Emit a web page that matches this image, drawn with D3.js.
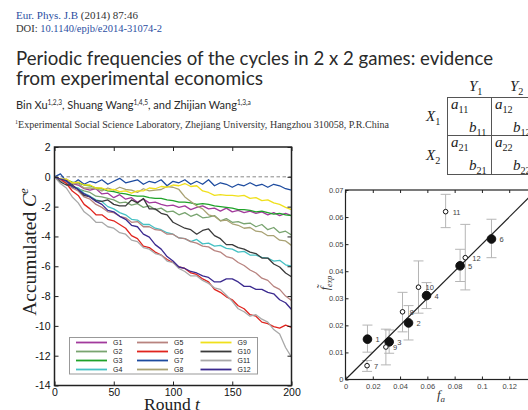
<!DOCTYPE html>
<html>
<head>
<meta charset="utf-8">
<script src="https://cdn.jsdelivr.net/npm/d3@7"></script>
<style>
html, body { margin: 0; padding: 0; background: #fff; }
svg { display: block; }
</style>
</head>
<body>
<svg id="fig" width="528" height="410"></svg>
<script>
// ---- data: accumulated C^e per game, sampled every 5 rounds ----
var rounds = [0, 5, 10, 15, 20, 25, 30, 35, 40, 45, 50, 55, 60, 65, 70, 75, 80, 85, 90, 95, 100,
  105, 110, 115, 120, 125, 130, 135, 140, 145, 150, 155, 160, 165, 170, 175, 180, 185, 190, 195, 200];
var games = ["G1", "G2", "G3", "G4", "G5", "G6", "G7", "G8", "G9", "G10", "G11", "G12"];
var gameColors = ["#a23a9c", "#79a470", "#1fa229", "#45c1c4", "#b8837f", "#e0241e",
  "#1d4b9f", "#a9a274", "#f0e01c", "#3a3a3a", "#a8a8a8", "#3b2a8f"];
var g1 = [0, -0.15, -0.3, -0.45, -0.55, -0.8, -0.9, -0.8, -1.15, -1.1, -1.4, -1.2, -1.5, -1.4, -1.7, -1.5, -1.75, -1.7, -1.85, -1.95, -1.9,
  -2.05, -1.95, -2.2, -2.05, -1.95, -2.15, -2.1, -2.3, -2.1, -2.35, -2.25, -2.4, -2.3, -2.45, -2.35, -2.55, -2.4, -2.6, -2.45, -2.6];
var g2 = [0, -0.3, -0.35, -0.65, -0.8, -0.95, -1.05, -1.3, -1.35, -1.45, -1.55, -1.75, -1.7, -1.9, -1.8, -2.05, -1.95, -2.2, -2.1, -2.35, -2.3,
  -2.55, -2.4, -2.65, -2.5, -2.75, -2.7, -2.6, -2.95, -2.8, -3.05, -3.0, -3.15, -3.1, -3.35, -3.2, -3.55, -3.4, -3.75, -3.65, -3.9];
var g3 = [0, -0.15, -0.2, -0.35, -0.4, -0.55, -0.6, -0.75, -0.8, -0.95, -1.0, -1.1, -1.15, -1.25, -1.3, -1.3, -1.4, -1.45, -1.45, -1.55, -1.6,
  -1.7, -1.7, -1.75, -1.85, -1.8, -1.85, -1.95, -2.0, -2.05, -2.1, -2.2, -2.2, -2.25, -2.35, -2.3, -2.4, -2.5, -2.45, -2.55, -2.6];
var g4 = [0, -0.3, -0.35, -0.7, -0.75, -1.1, -1.3, -1.55, -1.65, -2.0, -2.15, -2.4, -2.55, -2.85, -2.9, -3.2, -3.2, -3.45, -3.55, -3.75, -3.85,
  -4.1, -4.15, -4.35, -4.2, -4.5, -4.45, -4.65, -4.6, -4.8, -4.85, -5.05, -5.0, -5.25, -5.25, -5.4, -5.45, -5.65, -5.6, -5.9, -6.0];
var g5 = [0, -0.25, -0.4, -0.75, -0.95, -1.35, -1.5, -1.85, -2.05, -2.35, -2.4, -2.65, -2.75, -3.05, -3.0, -3.35, -3.35, -3.55, -3.6, -3.85, -3.85,
  -4.1, -4.15, -4.35, -4.45, -4.65, -4.7, -4.95, -5.05, -5.35, -5.45, -5.75, -5.95, -6.25, -6.45, -6.8, -6.95, -7.35, -7.55, -8.0, -8.3];
var g6 = [0, -0.15, -0.45, -0.95, -1.25, -1.85, -2.15, -2.55, -2.55, -2.85, -2.95, -3.2, -3.45, -3.95, -4.15, -4.65, -4.75, -5.05, -5.25, -5.55, -5.75,
  -6.05, -6.15, -6.45, -6.55, -6.85, -7.05, -7.55, -7.75, -8.05, -8.25, -8.65, -8.85, -9.25, -9.35, -9.75, -9.85, -10.05, -10.15, -9.95, -10.1];
var g7 = [0, 0.2, -0.3, -0.5, -0.2, -0.5, -0.3, -0.4, -0.2, -0.5, -0.3, -0.1, -0.4, -0.3, -0.2, -0.5, -0.3, -0.4, -0.2, -0.6, -0.3,
  -0.4, -0.2, -0.5, -0.3, -0.5, -0.2, -0.6, -0.4, -0.5, -0.7, -0.5, -0.6, -0.4, -0.6, -0.5, -0.7, -0.5, -0.6, -0.8, -0.9];
var g8 = [0, -0.15, -0.15, -0.45, -0.45, -0.75, -0.75, -0.8, -0.95, -0.75, -0.9, -0.7, -0.85, -0.9, -1.05, -0.8, -0.95, -0.9, -0.85, -0.65, -0.7,
  -0.85, -1.35, -1.65, -1.95, -2.15, -2.55, -2.65, -2.95, -2.9, -3.15, -3.25, -3.45, -3.4, -3.65, -3.7, -3.95, -3.95, -4.25, -4.3, -4.6];
var g9 = [0, -0.15, -0.15, -0.4, -0.35, -0.55, -0.55, -0.75, -0.75, -0.9, -0.85, -1.0, -0.95, -1.1, -0.95, -0.95, -0.75, -0.8, -0.65, -0.7, -0.55,
  -0.6, -0.45, -0.65, -0.6, -0.95, -1.05, -1.25, -1.2, -1.25, -1.25, -1.3, -1.25, -1.45, -1.4, -1.6, -1.55, -1.75, -1.85, -2.05, -2.2];
var g10 = [0, -0.35, -0.55, -0.55, -0.85, -1.25, -1.35, -1.6, -1.65, -1.55, -1.85, -1.95, -1.95, -1.55, -1.75, -1.45, -2.15, -2.15, -2.45, -2.55, -3.05,
  -3.25, -3.45, -3.55, -3.85, -3.6, -3.5, -3.95, -4.15, -4.55, -4.55, -4.75, -4.85, -5.05, -5.15, -5.45, -5.45, -5.85, -6.05, -6.45, -6.7];
var g11 = [0, -0.45, -0.75, -1.35, -1.75, -2.35, -2.65, -3.05, -3.05, -3.35, -3.45, -3.75, -3.85, -4.25, -4.35, -4.75, -4.85, -5.15, -5.25, -5.65, -5.75,
  -6.15, -6.35, -6.65, -6.65, -6.95, -7.15, -7.45, -7.55, -7.95, -8.35, -8.85, -9.05, -9.35, -9.25, -9.55, -9.75, -10.25, -10.55, -11.45, -12.1];
var g12 = [0, -0.15, -0.25, -0.65, -0.85, -1.15, -1.35, -1.65, -1.85, -2.25, -2.35, -2.65, -2.85, -3.25, -3.35, -3.85, -4.05, -4.55, -4.85, -5.35, -5.65,
  -6.05, -6.15, -6.35, -6.45, -6.65, -6.75, -7.05, -7.05, -6.85, -6.85, -7.05, -7.35, -7.35, -7.55, -7.55, -7.75, -7.85, -8.25, -8.45, -8.9];
var series = [g1, g2, g3, g4, g5, g6, g7, g8, g9, g10, g11, g12];
var roundTicks = [0, 50, 100, 150, 200];
var ceTicks = [2, 0, -2, -4, -6, -8, -10, -12, -14];

// ---- data: frequency scatter (f_a vs f~_exp) ----
var gameIds = ["1", "2", "3", "4", "5", "6", "7", "8", "9", "10", "11", "12"];
var fa = [0.0161, 0.0462, 0.032, 0.0594, 0.084, 0.107, 0.0158, 0.0418, 0.0296, 0.0535, 0.0734, 0.0878];
var fexp = [0.0149, 0.0209, 0.0139, 0.031, 0.042, 0.0519, 0.0051, 0.025, 0.012, 0.0341, 0.062, 0.045];
var fexpHi = [0.0201, 0.0273, 0.0183, 0.0358, 0.0481, 0.0592, 0.007, 0.0322, 0.0186, 0.0438, 0.0684, 0.0573];
var fexpLo = [0.0101, 0.0146, 0.0097, 0.0262, 0.0362, 0.045, 0.003, 0.0176, 0.0054, 0.0245, 0.0561, 0.0331];
var filled = [true, true, true, true, true, true, false, false, false, false, false, false];
var fitSlope = 0.5;
var faTicks = [0, 0.02, 0.04, 0.06, 0.08, 0.1, 0.12];
var fexpTicks = [0, 0.01, 0.02, 0.03, 0.04, 0.05, 0.06, 0.07];

var svg = d3.select("#fig");
svg.append("rect").attr("width", 528).attr("height", 410).attr("fill", "#fff");

var SERIF = "'Liberation Serif', 'Times New Roman', serif";
var SANS = "'Liberation Sans', Arial, sans-serif";
var BLUE = "#2b4ea2";

// ---- paper header ----
function line(x, y, parts, font, size, anchor) {
  var t = svg.append("text").attr("x", x).attr("y", y).attr("font-family", font).attr("font-size", size)
    .attr("text-anchor", anchor || "start");
  parts.forEach(function (p) {
    var s = t.append("tspan").text(p.t);
    if (p.c) s.attr("fill", p.c);
    if (p.sup) s.attr("font-size", size * 0.6).attr("dy", -size * 0.38);
    if (p.sub) s.attr("font-size", size * 0.68).attr("dy", size * 0.25);
    if (p.back) s.attr("dy", p.back);
    if (p.it) s.attr("font-style", "italic");
  });
  return t;
}
line(16, 19, [{ t: "Eur. Phys. J.B", c: BLUE }, { t: " (2014) 87:46", c: "#333" }], SERIF, 11);
line(16, 32, [{ t: "DOI: ", c: "#333" }, { t: "10.1140/epjb/e2014-31074-2", c: BLUE }], SERIF, 10.5);
line(16, 65, [{ t: "Periodic frequencies of the cycles in 2 x 2 games: evidence" }], "Lato, 'Open Sans', sans-serif", 20)
  .attr("fill", "#2a2a2a").attr("textLength", 477).attr("lengthAdjust", "spacingAndGlyphs");
line(16, 85, [{ t: "from experimental economics" }], "Lato, 'Open Sans', sans-serif", 20)
  .attr("fill", "#2a2a2a").attr("textLength", 247).attr("lengthAdjust", "spacingAndGlyphs");
line(16, 109, [{ t: "Bin Xu" }, { t: "1,2,3", sup: true }, { t: ", Shuang Wang", back: 4.2 }, { t: "1,4,5", sup: true },
  { t: ", and Zhijian Wang", back: 4.2 }, { t: "1,3,a", sup: true }], "Lato, 'Open Sans', sans-serif", 11).attr("fill", "#2a2a2a");
line(15, 128, [{ t: "1", sup: true }, { t: "Experimental Social Science Laboratory, Zhejiang University, Hangzhou 310058, P.R.China", back: 3.6 }],
  SERIF, 9.5).attr("fill", "#333").attr("textLength", 374).attr("lengthAdjust", "spacingAndGlyphs");

// ---- payoff matrix ----
var mx = svg.append("g").attr("stroke", "#555").attr("stroke-width", 1).attr("fill", "none");
mx.append("rect").attr("x", 447.5).attr("y", 97.5).attr("width", 90).attr("height", 77);
mx.append("line").attr("x1", 491.5).attr("x2", 491.5).attr("y1", 97.5).attr("y2", 174.5);
mx.append("line").attr("x1", 447.5).attr("x2", 537).attr("y1", 135.5).attr("y2", 135.5);
function mathSym(x, y, base, sub, anchor) {
  line(x, y, [{ t: base, it: true }, { t: sub, sub: true }], SERIF, 15, anchor).attr("fill", "#222");
}
mathSym(469, 91, "Y", "1");
mathSym(510, 91, "Y", "2");
mathSym(426, 121, "X", "1");
mathSym(426, 160, "X", "2");
mathSym(451, 109, "a", "11");
mathSym(495, 109, "a", "12");
mathSym(469, 132, "b", "11");
mathSym(513, 132, "b", "12");
mathSym(451, 147, "a", "21");
mathSym(495, 147, "a", "22");
mathSym(469, 170, "b", "21");
mathSym(513, 170, "b", "22");

// ---- left chart: accumulated C^e ----
var x = d3.scaleLinear().domain([0, 200]).range([54.5, 291.5]);
var y = d3.scaleLinear().domain([-14, 2]).range([385.5, 147]);
var L = svg.append("g");

L.append("line").attr("x1", x(0)).attr("x2", x(200)).attr("y1", y(0)).attr("y2", y(0))
  .attr("stroke", "#888").attr("stroke-width", 1).attr("stroke-dasharray", "3.5,2.5");

var path = d3.line().x(function (d, i) { return x(rounds[i]); }).y(function (d) { return y(d); });
series.forEach(function (s, k) {
  L.append("path").datum(s).attr("d", path).attr("fill", "none")
    .attr("stroke", gameColors[k]).attr("stroke-width", 1.3).attr("stroke-linejoin", "round");
});

function styleAxis(g) {
  g.select(".domain").remove();
  g.selectAll(".tick line").attr("stroke", "#222").attr("stroke-width", 1);
  g.selectAll(".tick text").attr("fill", "#111").attr("font-family", SANS);
}
L.append("g").attr("transform", "translate(0," + y(-14) + ")")
  .call(d3.axisBottom(x).tickValues(roundTicks).tickSize(-4).tickPadding(3).tickFormat(function (d) { return String(d); }))
  .call(styleAxis).selectAll("text").attr("font-size", 10.5);
L.append("g").attr("transform", "translate(0," + y(2) + ")")
  .call(d3.axisTop(x).tickValues(roundTicks).tickSize(-4).tickFormat(""))
  .call(styleAxis);
L.append("g").attr("transform", "translate(" + x(0) + ",0)")
  .call(d3.axisLeft(y).tickValues(ceTicks).tickSize(-4).tickPadding(4).tickFormat(function (d) { return String(d); }))
  .call(styleAxis).selectAll("text").attr("font-size", 10.5);
L.append("g").attr("transform", "translate(" + x(200) + ",0)")
  .call(d3.axisRight(y).tickValues(ceTicks).tickSize(-4).tickFormat(""))
  .call(styleAxis);
L.append("rect").attr("x", x(0)).attr("y", y(2)).attr("width", x(200) - x(0)).attr("height", y(-14) - y(2))
  .attr("fill", "none").attr("stroke", "#222").attr("stroke-width", 1.5);

// legend
var lg = L.append("g");
lg.append("rect").attr("x", 69.5).attr("y", 337.5).attr("width", 188).attr("height", 36.5)
  .attr("fill", "#fff").attr("stroke", "#999").attr("stroke-width", 1);
var legCol = [76, 137, 200.5], legRow = [342.5, 351.5, 360.5, 369.5];
games.forEach(function (gname, k) {
  var cx = legCol[Math.floor(k / 4)], cy = legRow[k % 4];
  lg.append("line").attr("x1", cx).attr("x2", cx + 31).attr("y1", cy).attr("y2", cy)
    .attr("stroke", gameColors[k]).attr("stroke-width", 1.8);
  lg.append("text").attr("x", cx + 37).attr("y", cy + 2.5).text(gname)
    .attr("font-family", SANS).attr("font-size", 7).attr("fill", "#222");
});

// axis labels
svg.append("text").attr("transform", "translate(36,252) rotate(-90)")
  .attr("text-anchor", "middle").attr("font-family", SERIF).attr("font-size", 19.5).attr("fill", "#222")
  .call(function (t) {
    t.append("tspan").text("Accumulated ");
    t.append("tspan").text("C").attr("font-style", "italic");
    t.append("tspan").text("e").attr("font-style", "italic").attr("font-size", 13).attr("dy", -8);
  });
svg.append("text").attr("x", 172).attr("y", 410).attr("text-anchor", "middle")
  .attr("font-family", SERIF).attr("font-size", 17.5).attr("fill", "#222")
  .call(function (t) {
    t.append("tspan").text("Round ");
    t.append("tspan").text("t").attr("font-style", "italic");
  });

// ---- right chart: frequency scatter ----
var sx = d3.scaleLinear().domain([0, 0.14]).range([345.5, 536.5]);
var sy = d3.scaleLinear().domain([0, 0.07]).range([379.5, 190]);
var R = svg.append("g");

R.append("g").attr("transform", "translate(0," + sy(0) + ")")
  .call(d3.axisBottom(sx).tickValues(faTicks).tickSize(-3).tickPadding(4).tickFormat(function (d) { return String(d); }))
  .call(styleAxis).selectAll("text").attr("font-size", 7.5).attr("fill", "#444");
R.append("g").attr("transform", "translate(0," + sy(0.07) + ")")
  .call(d3.axisTop(sx).tickValues(faTicks).tickSize(-3).tickFormat(""))
  .call(styleAxis);
R.append("g").attr("transform", "translate(" + sx(0) + ",0)")
  .call(d3.axisLeft(sy).tickValues(fexpTicks).tickSize(-3).tickPadding(2).tickFormat(function (d) { return String(d); }))
  .call(styleAxis).selectAll("text").attr("font-size", 7.5).attr("fill", "#444");
R.append("rect").attr("x", sx(0)).attr("y", sy(0.07)).attr("width", sx(0.14) - sx(0)).attr("height", sy(0) - sy(0.07))
  .attr("fill", "none").attr("stroke", "#222").attr("stroke-width", 1.2);

// error bars
fa.forEach(function (v, i) {
  var g = R.append("g").attr("stroke", "#b5b5b5").attr("stroke-width", 1);
  g.append("line").attr("x1", sx(v)).attr("x2", sx(v)).attr("y1", sy(fexpLo[i])).attr("y2", sy(fexpHi[i]));
  [fexpLo[i], fexpHi[i]].forEach(function (e) {
    g.append("line").attr("x1", sx(v) - 5).attr("x2", sx(v) + 5).attr("y1", sy(e)).attr("y2", sy(e));
  });
});
// fit line
R.append("line").attr("x1", sx(0)).attr("y1", sy(0)).attr("x2", sx(0.14)).attr("y2", sy(0.14 * fitSlope))
  .attr("stroke", "#222").attr("stroke-width", 1.2);
// markers + labels
fa.forEach(function (v, i) {
  R.append("circle").attr("cx", sx(v)).attr("cy", sy(fexp[i])).attr("r", filled[i] ? 4.3 : 2.3)
    .attr("fill", filled[i] ? "#111" : "#fff").attr("stroke", "#111").attr("stroke-width", 1);
  R.append("text").attr("x", sx(v) + (filled[i] ? 8 : 7)).attr("y", sy(fexp[i]) + 3).text(gameIds[i])
    .attr("font-family", SANS).attr("font-size", 7.5).attr("fill", "#444");
});

svg.append("text").attr("transform", "translate(329,283) rotate(-90)").attr("text-anchor", "middle")
  .attr("font-family", SERIF).attr("font-size", 12).attr("fill", "#333")
  .call(function (t) {
    t.append("tspan").text("f\u0303").attr("font-style", "italic");
    t.append("tspan").text("exp").attr("font-style", "italic").attr("font-size", 8).attr("dy", 3);
  });
svg.append("text").attr("x", 441).attr("y", 399).attr("text-anchor", "middle")
  .attr("font-family", SERIF).attr("font-size", 13).attr("fill", "#333")
  .call(function (t) {
    t.append("tspan").text("f").attr("font-style", "italic");
    t.append("tspan").text("a").attr("font-style", "italic").attr("font-size", 9).attr("dy", 3);
  });
</script>
</body>
</html>
